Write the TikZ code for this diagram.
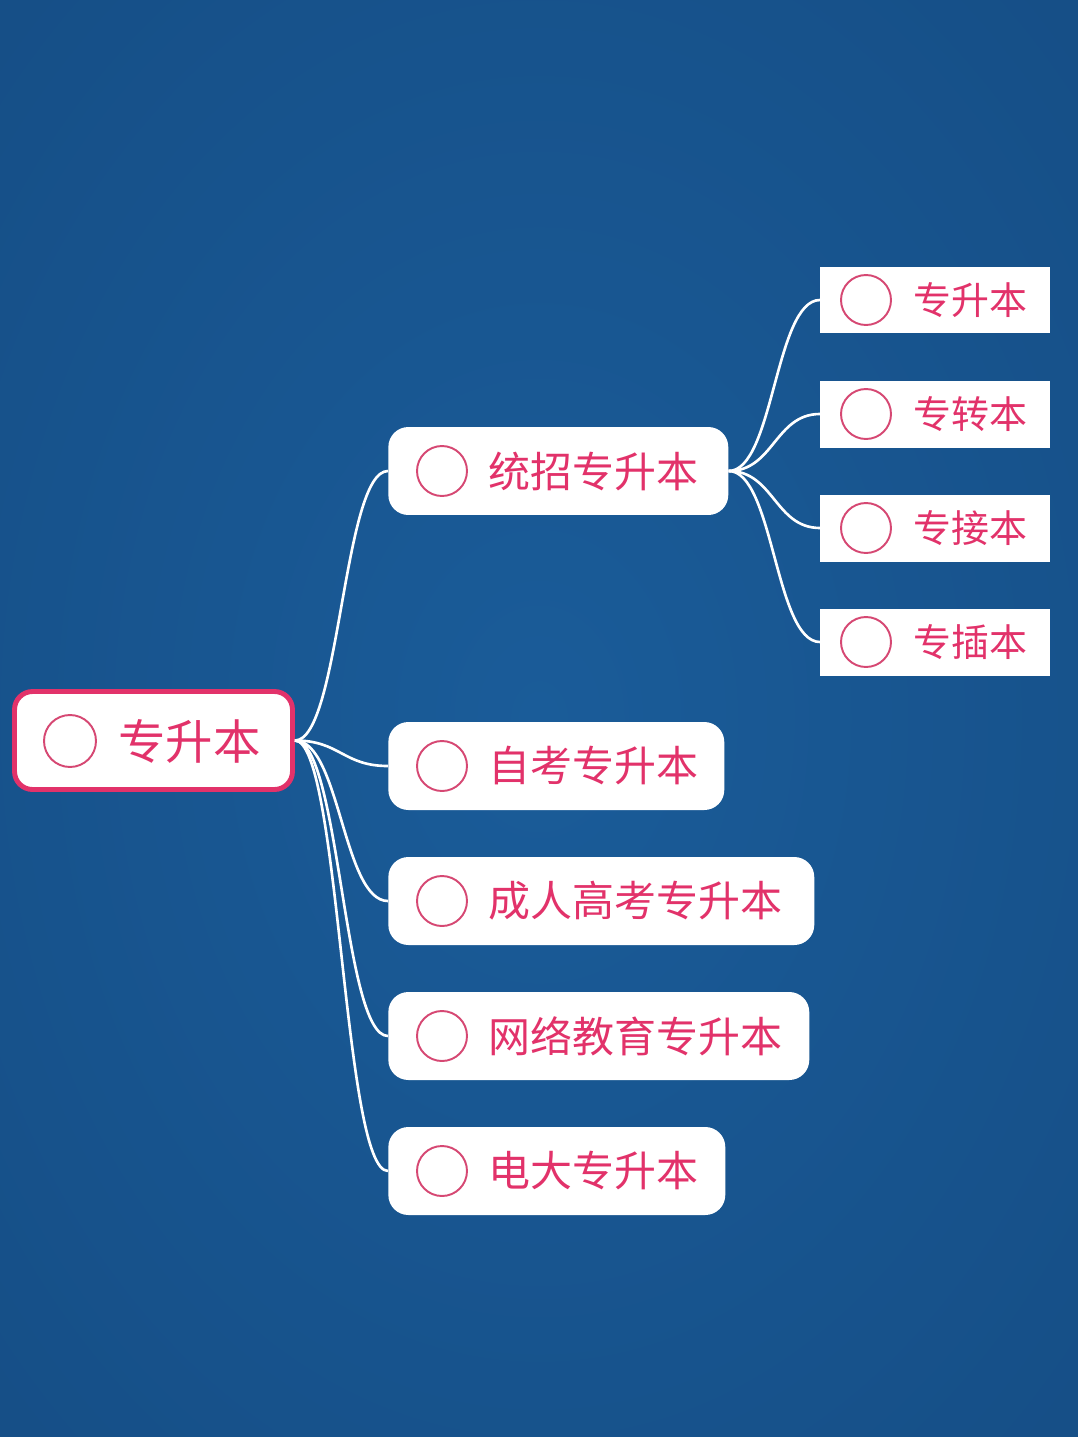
\documentclass[tikz,border=0pt]{standalone}
\usepackage{fontspec}
\newfontfamily\cjk{Noto Sans CJK SC}
\definecolor{bgin}{RGB}{26,92,153}
\definecolor{bgout}{RGB}{20,73,127}
\definecolor{bgedge}{RGB}{17,64,114}
\definecolor{rose}{RGB}{226,50,106}
\definecolor{ringpink}{RGB}{214,72,115}
\pgfdeclareradialshading{bgglow}{\pgfpoint{0bp}{0bp}}{color(0bp)=(bgin); color(50bp)=(bgout); color(72bp)=(bgedge)}
\tikzset{
    rootbox/.style = {draw=rose, line width=2.8pt, fill=white, rounded corners=0.36cm, minimum width=5.56cm, minimum height=1.96cm, inner sep=0pt},
    midbox/.style = {fill=white, rounded corners=0.4cm, minimum height=1.76cm, inner sep=0pt, anchor=west},
    leafbox/.style = {fill=white, minimum width=4.6cm, minimum height=1.34cm, inner sep=0pt, anchor=west},
    ring/.style = {circle, draw=ringpink, line width=1.1pt, minimum size=1cm, inner sep=0pt},
    word/.style = {anchor=west, inner sep=0pt, text=rose},
    link/.style = {draw=white, line width=1.5pt},
}
\begin{document}
\begin{tikzpicture}[x = 0.02cm, y = -0.02cm]
    \useasboundingbox (0, 0) rectangle (1078, 1437);
    \shade [shading=bgglow] (0, 0) rectangle (1078, 1437);
    % root
    \node [rootbox] (root) at (153.5, 740.5) {};
    \node [ring, minimum size=1.04cm] (rootring) at (70, 741) {};
    \node [word, font=\cjk\fontsize{27pt}{28pt}\selectfont] (roottext) at (118, 741) {专升本};
    % second level
    \node [midbox, minimum width=6.8cm] (tz) at (388, 471) {};
    \node [midbox, minimum width=6.72cm] (zk) at (388, 766) {};
    \node [midbox, minimum width=8.52cm] (cr) at (388, 901) {};
    \node [midbox, minimum width=8.42cm] (wl) at (388, 1036) {};
    \node [midbox, minimum width=6.74cm] (dd) at (388, 1171) {};
    \foreach \n/\y/\t in {tz/471/统招专升本, zk/766/自考专升本, cr/901/成人高考专升本, wl/1036/网络教育专升本, dd/1171/电大专升本} {
        \node [ring] (\n ring) at (442, \y) {};
        \node [word, font=\cjk\fontsize{23.9pt}{25pt}\selectfont] (\n text) at (488, \y) {\t};
    }
    % third level
    \foreach \n/\y/\t in {sb/300/专升本, zb/414/专转本, jb/528/专接本, cb/642/专插本} {
        \node [leafbox] (\n) at (820, \y) {};
        \node [ring] (\n ring) at (866, \y) {};
        \node [word, font=\cjk\fontsize{21.6pt}{23pt}\selectfont] (\n text) at (913, \y) {\t};
    }
    % links
    \foreach \n in {tz, zk, cr, wl, dd}
        \draw [link] (root.east) .. controls +(45, 0) and +(-45, 0) .. (\n.west);
    \foreach \n in {sb, zb, jb, cb}
        \draw [link] (tz.east) .. controls +(45, 0) and +(-45, 0) .. (\n.west);
\end{tikzpicture}
\end{document}
